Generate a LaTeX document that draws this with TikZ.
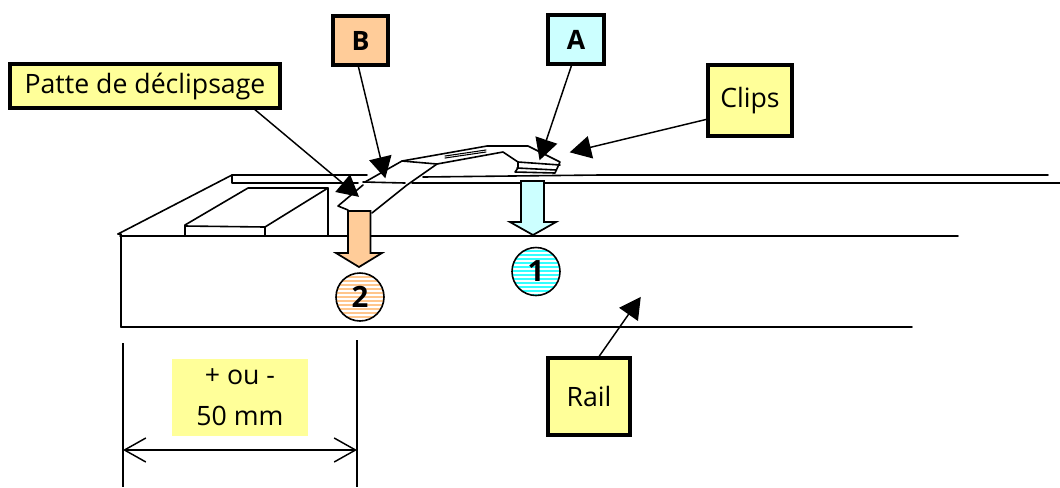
\documentclass[tikz,border=0pt]{standalone}
\usepackage{fontspec}
\setmainfont{Open Sans}
\usetikzlibrary{arrows.meta,calc}
\definecolor{labelyellow}{HTML}{FFFF99}
\definecolor{peach}{HTML}{FFCC99}
\definecolor{ice}{HTML}{CCFFFF}
\definecolor{cyanstripe}{HTML}{33FFFF}
\definecolor{peachstripe}{HTML}{FFC68C}
\tikzset{
  x=0.75pt,y=-0.75pt,
  part/.style={line width=1.2pt,line join=round,line cap=round},
  labelbox/.style={draw=black,line width=2.6pt,fill=labelyellow,inner sep=0pt,outer sep=0pt,font=\fontsize{20}{22}\selectfont},
  tagbox/.style={labelbox,font=\bfseries\fontsize{20}{22}\selectfont},
  pointer/.style={line width=1.1pt,-{Triangle[length=16pt,width=17pt]},shorten >=-1pt},
  dimline/.style={line width=1.1pt,{Straight Barb[length=16pt,width=18pt]}-{Straight Barb[length=16pt,width=18pt]}},
  dropnum/.style={circle,inner sep=0pt,outer sep=0pt,minimum size=36pt},
  dropdigit/.style={inner sep=0pt,outer sep=0pt,font=\bfseries\fontsize{22}{24}\selectfont},
  bigarrow/.style={draw=black,line width=1.3pt,line join=miter},
  stripe/.style={white,line width=0.95pt}
}
\begin{document}
\begin{tikzpicture}
\useasboundingbox (0,0) rectangle (1060,487);
% rail
\draw[part] (121,327) -- (121,234) -- (118,234);
\draw[part] (120,236) -- (958,236);
\draw[part] (121,327) -- (912,327);
% upper plate
\draw[part] (118,234) -- (232,175) -- (367,175);
\draw[part] (232,175) -- (232,183) -- (358,183);
\draw[part] (423,177) -- (600,175) -- (1048,175);
\draw[part] (412,183) -- (1060,183);
% block
\draw[part] (185,236) -- (185,225) -- (248,188) -- (328,188) -- (328,236);
\draw[part] (185,226) -- (265,227) -- (265,236);
\draw[part] (265,227) -- (328,188);
% clip
\draw[part] (365,182) -- (402,161) -- (487,146) -- (528,146) -- (560,162) -- (555,173) -- (515,172) -- (518,168) -- (518,162) -- (503,152) -- (437,164) -- (407,185) -- (372,213);
\draw[part] (402,161) -- (437,164);
\draw[part] (518,162) -- (560,165);
\draw[part] (517,168) -- (556,170);
\draw[part] (363,182) -- (405,183);
\draw[part] (363,185) -- (338,206) -- (348,210);
\draw[part,line width=0.8pt] (445,156) -- (486,150) (445,158) -- (486,152);
% big arrows
\draw[bigarrow,fill=ice] (521,181) -- (544,181) -- (544,222) -- (556,222) -- (533,235) -- (510,222) -- (521,222) -- cycle;
\draw[bigarrow,fill=peach] (348,211) -- (370.5,211) -- (370.5,253) -- (382,253) -- (359,267) -- (336,253) -- (348,253) -- cycle;
% numbered circles: stripes first, digits on top so they stay legible
\node[dropnum,fill=cyanstripe] (c1) at (536,271.5) {};
\node[dropnum,fill=peachstripe] (c2) at (360,297) {};
\begin{scope}
\clip (536,271.5) circle (24);
\foreach \yy in {249,253,...,297} \draw[stripe] (510,\yy) -- (562,\yy);
\end{scope}
\begin{scope}
\clip (360,297) circle (24);
\foreach \yy in {275,279,...,323} \draw[stripe] (334,\yy) -- (386,\yy);
\end{scope}
\draw[line width=1.2pt] (536,271.5) circle (24);
\draw[line width=1.2pt] (360,297) circle (24);
\node[dropdigit] (n1) at (c1) {1};
\node[dropdigit] (n2) at (c2) {2};
% labels
\node[labelbox,minimum width=202.5pt,minimum height=33pt] (patte) at (145,86) {Patte de déclipsage};
\node[tagbox,fill=peach,minimum width=41.25pt,minimum height=36.75pt] (tagB) at (360.5,40.5) {B};
\node[tagbox,fill=ice,minimum width=42pt,minimum height=36.75pt] (tagA) at (576,39.5) {A};
\node[labelbox,minimum width=63pt,minimum height=53.25pt] (clips) at (750,100.5) {Clips};
\node[labelbox,minimum width=61.5pt,minimum height=57.75pt] (rail) at (589,396.5) {Rail};
\node[fill=labelyellow,inner sep=0pt,outer sep=0pt,minimum width=102pt,minimum height=57.75pt,align=center,font=\fontsize{20}{30.75}\selectfont] (size) at (240,397.5) {+ ou -\\50 mm};
% pointers
\coordinate (tipPatte) at (358,196);
\coordinate (tipB) at (385,177);
\coordinate (tipA) at (540,159);
\coordinate (tipClips) at (571,152);
\coordinate (tipRail) at (640,298);
\draw[pointer] ($(patte.south west)+(243,0)$) -- (tipPatte);
\draw[pointer] ($(tagB.south west)+(25,0)$) -- (tipB);
\draw[pointer] ($(tagA.south west)+(24,0)$) -- (tipA);
\draw[pointer] ($(clips.north west)+(0,54)$) -- (tipClips);
\draw[pointer] ($(rail.north west)+(50,0)$) -- (tipRail);
% dimension
\coordinate (dl1) at (123,343);
\coordinate (dl2) at (123,487);
\coordinate (dr1) at (357,340);
\coordinate (dr2) at (357,487);
\coordinate (da) at (123,450);
\coordinate (db) at (357,450);
\draw[line width=1.1pt] (dl1) -- (dl2);
\draw[line width=1.2pt] (dr1) -- (dr2);
\draw[dimline] (da) -- (db);
\end{tikzpicture}
\end{document}
